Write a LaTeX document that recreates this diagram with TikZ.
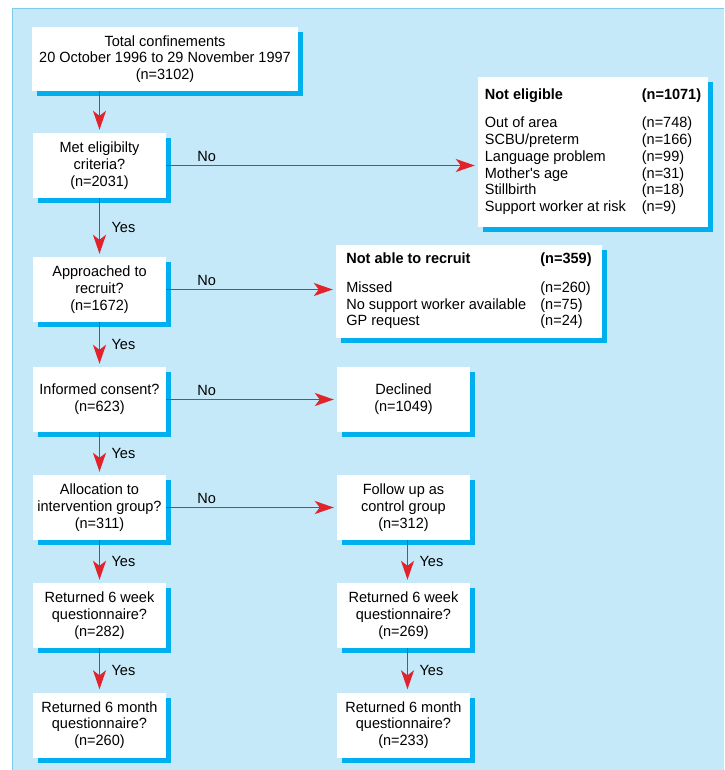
\documentclass[tikz,border=0pt]{standalone}
\usepackage{fontspec}
\setmainfont{Liberation Sans}[FakeStretch=0.98]
\usetikzlibrary{arrows.meta,shadows}
\definecolor{panelblue}{HTML}{C6E9F9}
\definecolor{edgeblue}{HTML}{7CCBEF}
\definecolor{shadeblue}{HTML}{00B0EE}
\definecolor{arrowred}{HTML}{E3232B}
\begin{document}
\begin{tikzpicture}[x=1pt,y=-1pt,
    font=\fontsize{14.8}{16.7}\selectfont,
    box/.style={fill=white,align=center,inner sep=2pt,
      drop shadow={shadow xshift=5pt,shadow yshift=-5pt,fill=shadeblue,opacity=1}},
    qbox/.style={box,minimum width=133pt,minimum height=65pt},
    arr/.style={draw=arrowred,line width=1.6pt,shorten >=3pt,
      -{Stealth[length=19pt,width=13pt,inset=5pt]}},
    yeslab/.style={midway,anchor=west,xshift=8pt},
    nolab/.style={pos=0,anchor=base west,xshift=27pt,yshift=4pt}]
  \useasboundingbox (0,0) rectangle (724,770);
  \fill[panelblue] (12,9) rectangle (724,770);
  \draw[edgeblue,line width=1pt] (12,770) -- (12,9) -- (724,9);
  % left column
  \node[box,minimum width=266pt,minimum height=64pt] (total) at (165,59)
    {Total confinements\\20 October 1996 to 29 November 1997\\(n=3102)};
  \node[qbox] (elig) at (99.5,165.5) {Met eligibilty\\criteria?\\(n=2031)};
  \node[qbox] (approach) at (99.5,289.5) {Approached to\\recruit?\\(n=1672)};
  \node[qbox] (consent) at (99.5,399.5) {Informed consent?\\(n=623)};
  \node[qbox] (alloc) at (99.5,507.5) {Allocation to\\intervention group?\\(n=311)};
  \node[qbox] (week1) at (99.5,615.5) {Returned 6 week\\questionnaire?\\(n=282)};
  \node[qbox] (month1) at (99.5,725) {Returned 6 month\\questionnaire?\\(n=260)};
  % right column
  \node[qbox] (declined) at (403.5,399.5) {Declined\\(n=1049)};
  \node[qbox] (control) at (403.5,507.5) {Follow up as\\control group\\(n=312)};
  \node[qbox] (week2) at (403.5,615.5) {Returned 6 week\\questionnaire?\\(n=269)};
  \node[qbox] (month2) at (403.5,725) {Returned 6 month\\questionnaire?\\(n=233)};
  \node[box,minimum width=230pt,minimum height=150pt] (notelig) at (593,152)
    {\begin{tabular}{@{}p{157pt}@{}l@{}}
      \textbf{Not eligible} & \textbf{(n=1071)}\\[12pt]
      Out of area & (n=748)\\
      SCBU/preterm & (n=166)\\
      Language problem & (n=99)\\
      Mother\textquotesingle s age & (n=31)\\
      Stillbirth & (n=18)\\
      Support worker at risk & (n=9)
    \end{tabular}};
  \node[box,minimum width=266pt,minimum height=93pt] (norecruit) at (469,291.5)
    {\begin{tabular}{@{}p{194pt}@{}l@{}}
      \textbf{Not able to recruit} & \textbf{(n=359)}\\[12pt]
      Missed & (n=260)\\
      No support worker available & (n=75)\\
      GP request & (n=24)
    \end{tabular}};
  % arrows
  \draw[arr] (total.south -| elig.north) -- (elig.north);
  \draw[arr] (elig) -- node[yeslab]{Yes} (approach);
  \draw[arr] (approach) -- node[yeslab]{Yes} (consent);
  \draw[arr] (consent) -- node[yeslab]{Yes} (alloc);
  \draw[arr] (alloc) -- node[yeslab]{Yes} (week1);
  \draw[arr] (week1) -- node[yeslab]{Yes} (month1);
  \draw[arr] (elig.east) -- node[nolab]{No} (elig.east -| notelig.west);
  \draw[arr] (approach.east) -- node[nolab]{No} (approach.east -| norecruit.west);
  \draw[arr] (consent.east) -- node[nolab]{No} (declined.west);
  \draw[arr] (alloc.east) -- node[nolab]{No} (control.west);
  \draw[arr] ([xshift=4pt]control.south) -- node[yeslab]{Yes} ([xshift=4pt]week2.north);
  \draw[arr] ([xshift=4pt]week2.south) -- node[yeslab]{Yes} ([xshift=4pt]month2.north);
\end{tikzpicture}
\end{document}
